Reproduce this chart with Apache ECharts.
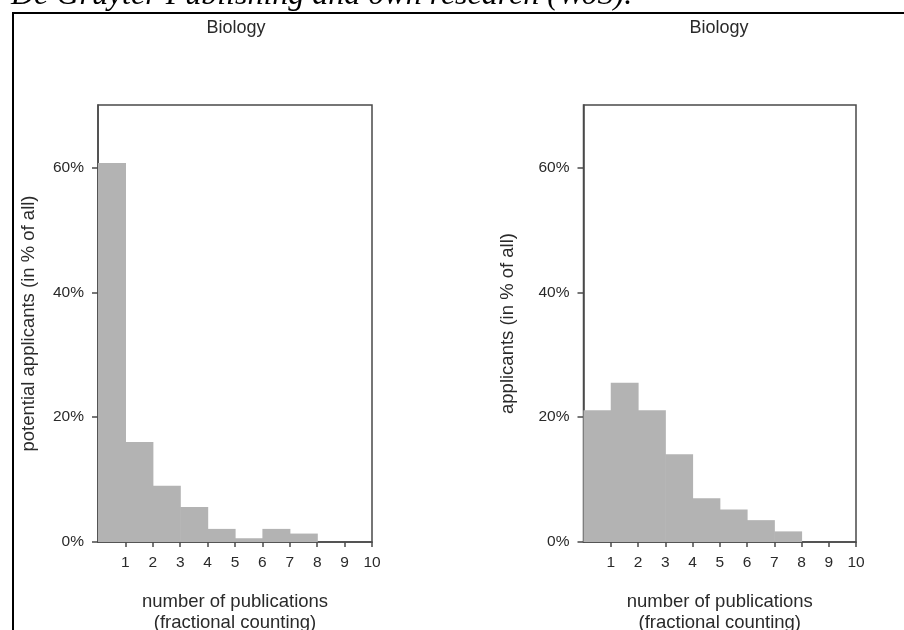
<!DOCTYPE html>
<html>
<head>
<meta charset="utf-8">
<script src="https://cdn.jsdelivr.net/npm/echarts@6/dist/echarts.min.js"></script>
<style>
html,body{margin:0;padding:0;background:#fff;}
#chart{width:904px;height:630px;}
</style>
</head>
<body>
<div id="chart"></div>
<script>
// Data
const binStarts = [0, 1, 2, 3, 4, 5, 6, 7, 8, 9];
const binEnds   = [1, 2, 3, 4, 5, 6, 7, 8, 9, 10];
const potentialApplicants = [60.7, 16.0, 9.0, 5.6, 2.1, 0.6, 2.1, 1.35, 0, 0];
const applicants          = [21.1, 25.5, 21.1, 14.05, 7.0, 5.2, 3.5, 1.7, 0, 0];
const xTickValues = [1, 2, 3, 4, 5, 6, 7, 8, 9, 10];
const yTickValues = [0, 20, 40, 60];
const panelTitles = ['Biology', 'Biology'];
const yNames = ['potential applicants (in % of all)', 'applicants (in % of all)'];
const xName = 'number of publications\n(fractional counting)';
const headerText = 'De Gruyter Publishing and own research (WoS).';

const toData = vals => binStarts.map((s, i) => [s, binEnds[i], vals[i]]);

const FONT = 'Liberation Sans, Arial, sans-serif';
const AXIS_COLOR = '#4a4a4a';
const TEXT_COLOR = '#2a2a2a';
const BAR_COLOR = '#b3b3b3';

function renderItem(params, api) {
  const x0 = api.value(0), x1 = api.value(1), v = api.value(2);
  const p0 = api.coord([x0, 0]);
  const p1 = api.coord([x1, v]);
  return {
    type: 'rect',
    shape: { x: p0[0], y: p1[1], width: p1[0] - p0[0] + 0.6, height: p0[1] - p1[1] },
    style: { fill: BAR_COLOR }
  };
}

const grids = [
  { left: 98, top: 105, width: 274, height: 437 },
  { left: 583.5, top: 105, width: 272.5, height: 437 }
];

function xAxisFor(i) {
  return {
    gridIndex: i, type: 'value', min: 0, max: 10, interval: 1,
    name: xName, nameLocation: 'middle', nameGap: 49,
    nameTextStyle: { fontFamily: FONT, fontSize: 18.5, color: TEXT_COLOR, lineHeight: 21 },
    axisLine: { show: true, lineStyle: { color: AXIS_COLOR, width: 1.5 } },
    axisTick: { show: true, length: 5, customValues: xTickValues, lineStyle: { color: AXIS_COLOR, width: 1.5 } },
    axisLabel: { customValues: xTickValues, margin: 13, fontFamily: FONT, fontSize: 15.5, color: TEXT_COLOR },
    splitLine: { show: false }
  };
}
function yAxisFor(i, gap) {
  return {
    gridIndex: i, type: 'value', min: 0, max: 70,
    name: yNames[i], nameLocation: 'middle', nameGap: gap,
    nameTextStyle: { fontFamily: FONT, fontSize: 18.5, color: TEXT_COLOR },
    axisLine: { show: true, lineStyle: { color: AXIS_COLOR, width: 1.5 } },
    axisTick: { show: true, length: 6, customValues: yTickValues, lineStyle: { color: AXIS_COLOR, width: 1.5 } },
    axisLabel: { customValues: yTickValues, formatter: '{value}%', margin: 14, fontFamily: FONT, fontSize: 15.5, color: TEXT_COLOR },
    splitLine: { show: false }
  };
}

const chart = echarts.init(document.getElementById('chart'), null, { renderer: 'canvas' });
chart.setOption({
  backgroundColor: '#fff',
  animation: false,
  title: [
    { text: panelTitles[0], left: 231, top: 14, textAlign: 'center',
      textStyle: { fontFamily: FONT, fontSize: 18, fontWeight: 'normal', color: TEXT_COLOR } },
    { text: panelTitles[1], left: 714, top: 14, textAlign: 'center',
      textStyle: { fontFamily: FONT, fontSize: 18, fontWeight: 'normal', color: TEXT_COLOR } }
  ],
  grid: grids.map(g => Object.assign({ show: true, borderColor: AXIS_COLOR, borderWidth: 1.5, backgroundColor: 'transparent', containLabel: false, outerBoundsMode: 'none' }, g)),
  xAxis: [xAxisFor(0), xAxisFor(1)],
  yAxis: [yAxisFor(0, 60), yAxisFor(1, 66)],
  series: [
    { type: 'custom', xAxisIndex: 0, yAxisIndex: 0, renderItem, data: toData(potentialApplicants), encode: { x: [0, 1], y: 2 } },
    { type: 'custom', xAxisIndex: 1, yAxisIndex: 1, renderItem, data: toData(applicants), encode: { x: [0, 1], y: 2 } }
  ],
  graphic: [
    { type: 'text', x: 11, y: 12, style: { text: headerText, font: 'italic 32px "Liberation Serif", "Times New Roman", serif', fill: '#000', verticalAlign: 'bottom' } },
    { type: 'line', shape: { x1: 12, y1: 13, x2: 904, y2: 13 }, style: { stroke: '#000', lineWidth: 2 } },
    { type: 'line', shape: { x1: 13, y1: 12, x2: 13, y2: 630 }, style: { stroke: '#000', lineWidth: 2 } }
  ]
});
</script>
</body>
</html>
